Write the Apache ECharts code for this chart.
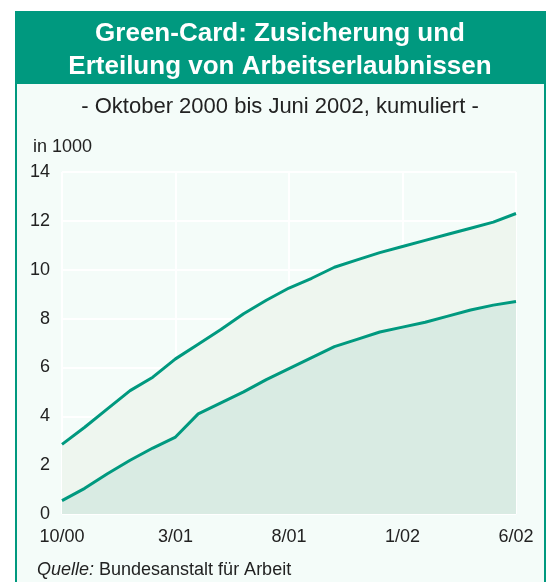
<!DOCTYPE html>
<html>
<head>
<meta charset="utf-8">
<script src="https://cdn.jsdelivr.net/npm/echarts@6/dist/echarts.min.js"></script>
<style>
  html, body { margin: 0; padding: 0; background: #fff; }
  #chart { width: 548px; height: 582px; }
</style>
</head>
<body>
<div id="chart"></div>
<script>
// Monate Oktober 2000 bis Juni 2002
const months = ['10/00', '11/00', '12/00', '1/01', '2/01', '3/01', '4/01', '5/01', '6/01', '7/01',
  '8/01', '9/01', '10/01', '11/01', '12/01', '1/02', '2/02', '3/02', '4/02', '5/02', '6/02'];
const tickLabels = ['10/00', '3/01', '8/01', '1/02', '6/02'];
const yTicks = [0, 2, 4, 6, 8, 10, 12, 14];

// in 1000, kumuliert
const zugesichert = [2.85, 3.55, 4.3, 5.05, 5.6, 6.35, 6.95, 7.55, 8.2, 8.75,
  9.25, 9.65, 10.1, 10.4, 10.7, 10.95, 11.2, 11.45, 11.7, 11.95, 12.3];
const erteilt = [0.55, 1.05, 1.65, 2.2, 2.7, 3.15, 4.1, 4.55, 5.0, 5.5,
  5.95, 6.4, 6.85, 7.15, 7.45, 7.65, 7.85, 8.1, 8.35, 8.55, 8.7];

const teal = '#00997f';
const font = 'Liberation Sans, Arial, sans-serif';

const chart = echarts.init(document.getElementById('chart'));

const option = {
  animation: false,
  textStyle: { fontFamily: font },
  grid: { left: 62, right: 32, top: 172, bottom: 68 },
  graphic: [
    {
      type: 'rect', z: -10,
      shape: { x: 16, y: 12, width: 529, height: 590 },
      style: { fill: '#f4fcf9', stroke: teal, lineWidth: 2 }
    },
    {
      type: 'rect', z: -9,
      shape: { x: 16, y: 12, width: 529, height: 72 },
      style: { fill: teal }
    },
    {
      type: 'text', x: 280, y: 17,
      style: {
        text: 'Green-Card: Zusicherung und\nErteilung von Arbeitserlaubnissen',
        fill: '#fff', font: 'bold 26px ' + font, align: 'center', lineHeight: 33
      }
    },
    {
      type: 'text', x: 280, y: 96,
      style: { text: '- Oktober 2000 bis Juni 2002, kumuliert -', fill: '#222', font: '22px ' + font, align: 'center' }
    },
    {
      type: 'text', left: 33, top: 138,
      style: { text: 'in 1000', fill: '#222', font: '18px ' + font }
    },
    {
      type: 'text', left: 353, top: 259,
      style: { text: 'zugesicherte\nArbeitserlaubnisse', fill: '#222', font: '18px ' + font, lineHeight: 24 }
    },
    {
      type: 'text', left: 353, top: 363,
      style: { text: 'erteilte\nArbeitserlaubnisse', fill: '#222', font: '18px ' + font, lineHeight: 24 }
    },
    {
      type: 'text', left: 37, top: 561,
      style: {
        text: '{i|Quelle:} Bundesanstalt für Arbeit',
        fill: '#222', font: '18px ' + font,
        rich: { i: { fontStyle: 'italic', fontSize: 18, fontFamily: font, fill: '#222' } }
      }
    }
  ],
  xAxis: {
    type: 'category',
    data: months,
    boundaryGap: false,
    axisLine: { show: false },
    axisTick: { show: false },
    axisLabel: {
      interval: 0,
      color: '#222', fontSize: 18, margin: 14,
      formatter: v => tickLabels.includes(v) ? v : ''
    },
    splitLine: {
      show: true,
      interval: i => tickLabels.includes(months[i]),
      lineStyle: { color: '#ffffff', width: 2 }
    }
  },
  yAxis: {
    type: 'value',
    min: yTicks[0], max: yTicks[yTicks.length - 1], interval: 2,
    axisLine: { show: false },
    axisTick: { show: false },
    axisLabel: { color: '#222', fontSize: 18, margin: 12 },
    splitLine: { lineStyle: { color: '#ffffff', width: 2 } }
  },
  series: [
    {
      name: 'zugesicherte Arbeitserlaubnisse',
      type: 'line',
      data: zugesichert,
      symbol: 'none',
      lineStyle: { color: teal, width: 3 },
      areaStyle: { color: '#eef6ef', opacity: 1 }
    },
    {
      name: 'erteilte Arbeitserlaubnisse',
      type: 'line',
      data: erteilt,
      symbol: 'none',
      lineStyle: { color: teal, width: 3 },
      areaStyle: { color: '#d9ebe3', opacity: 1 }
    }
  ]
};

chart.setOption(option);
</script>
</body>
</html>
